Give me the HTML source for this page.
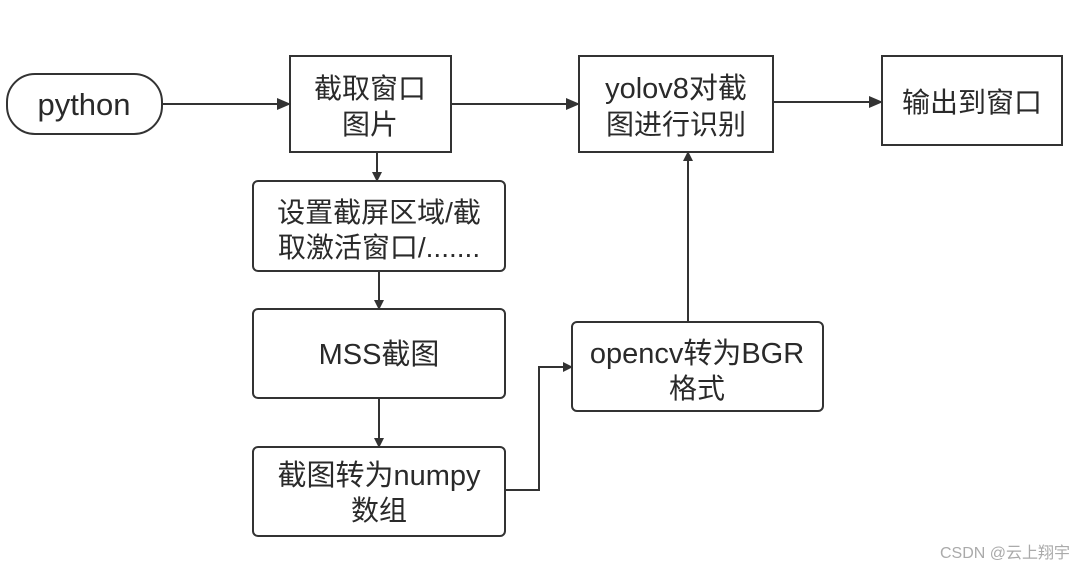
<!DOCTYPE html>
<html><head><meta charset="utf-8"><style>
body{margin:0;background:#fff;}
svg text{font-family:"Liberation Sans","Noto Sans CJK SC",sans-serif;font-size:28px;fill:#2a2a2a;text-anchor:middle;}
</style></head><body>
<svg width="1076" height="569" viewBox="0 0 1076 569" xmlns="http://www.w3.org/2000/svg">
<defs><marker id="a" markerWidth="10" markerHeight="10" refX="9" refY="5" orient="auto" markerUnits="userSpaceOnUse"><path d="M0,0 L10,5 L0,10 Z" fill="#333"/></marker>
<marker id="b" markerWidth="14" markerHeight="12" refX="13" refY="6" orient="auto" markerUnits="userSpaceOnUse"><path d="M0,0 L14,6 L0,12 Z" fill="#333"/></marker></defs>
<g fill="#fff" stroke="#333" stroke-width="2">
<rect x="7" y="74" width="155" height="60" rx="28"/>
<rect x="290" y="56" width="161" height="96"/>
<rect x="579" y="56" width="194" height="96"/>
<rect x="882" y="56" width="180" height="89"/>
<rect x="253" y="181" width="252" height="90" rx="5"/>
<rect x="253" y="309" width="252" height="89" rx="5"/>
<rect x="253" y="447" width="252" height="89" rx="5"/>
<rect x="572" y="322" width="251" height="89" rx="5"/>
</g>
<g stroke="#333" stroke-width="2" fill="none">
<line x1="162" y1="104" x2="290" y2="104" marker-end="url(#b)"/>
<line x1="451" y1="104" x2="579" y2="104" marker-end="url(#b)"/>
<line x1="773" y1="102" x2="882" y2="102" marker-end="url(#b)"/>
<line x1="377" y1="152" x2="377" y2="181" marker-end="url(#a)"/>
<line x1="379" y1="271" x2="379" y2="309" marker-end="url(#a)"/>
<line x1="379" y1="398" x2="379" y2="447" marker-end="url(#a)"/>
<polyline points="505,490 539,490 539,367 572,367" marker-end="url(#a)"/>
<line x1="688" y1="322" x2="688" y2="152" marker-end="url(#a)"/>
</g>
<text x="84" y="115" style="font-size:31px">python</text>
<text x="370" y="98">截取窗口</text>
<text x="370" y="134">图片</text>
<text x="676" y="98" style="font-size:29px">yolov8对截</text>
<text x="676" y="134">图进行识别</text>
<text x="972" y="112">输出到窗口</text>
<text x="379" y="222">设置截屏区域/截</text>
<text x="379" y="257">取激活窗口/.......</text>
<text x="379" y="364" style="font-size:29px">MSS截图</text>
<text x="379" y="485" style="font-size:29px">截图转为numpy</text>
<text x="379" y="520">数组</text>
<text x="697" y="363" style="font-size:29px">opencv转为BGR</text>
<text x="697" y="398">格式</text>
<text x="1070" y="558" style="font-size:16px;fill:#aaa;text-anchor:end">CSDN @云上翔宇</text>
</svg>
</body></html>
